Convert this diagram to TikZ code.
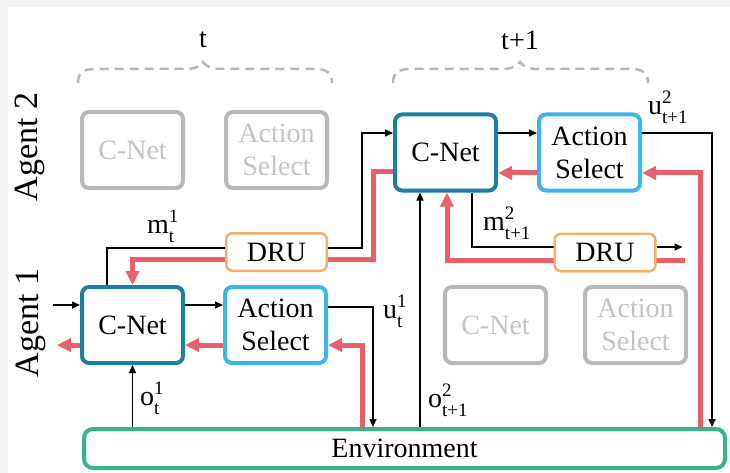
\documentclass[tikz,border=0pt]{standalone}
\usepackage{fontspec}
\setmainfont{Liberation Serif}
\usetikzlibrary{arrows.meta,calc}
\pgfdeclarelayer{bottom}
\pgfdeclarelayer{background}
\pgfsetlayers{bottom,background,main}
\definecolor{cnet}{HTML}{1A7FA0}
\definecolor{asel}{HTML}{3DB5E6}
\definecolor{druc}{HTML}{F4B06A}
\definecolor{envc}{HTML}{3BB38A}
\definecolor{grad}{HTML}{E8606A}
\definecolor{gbox}{HTML}{B8B8B8}
\definecolor{gtxt}{HTML}{C4C4C4}
\definecolor{bgc}{HTML}{F4F4F4}
\newcommand\ssc[3]{#1\rlap{\raisebox{11pt}{\fontsize{19}{19}\selectfont #3}}\raisebox{-9pt}{\fontsize{19}{19}\selectfont #2}}
\begin{document}
\begin{tikzpicture}[x=1pt,y=-1pt,font=\rmfamily\fontsize{28}{33}\selectfont,
  box/.style={draw,rounded corners=7pt,line width=4pt,fill=white,minimum width=101pt,minimum height=76pt,inner sep=0pt,align=center},
  cnetbox/.style={box,draw=cnet},
  asbox/.style={box,draw=asel},
  graybox/.style={box,draw=gbox,text=gtxt},
  drubox/.style={draw=druc,rounded corners=6pt,line width=2.5pt,fill=white,minimum width=100.5pt,minimum height=37.5pt,inner sep=0pt},
  envbox/.style={draw=envc,rounded corners=9pt,line width=4pt,fill=white,minimum width=641pt,minimum height=39pt,inner sep=0pt},
  wire/.style={black,line width=1.4pt},
  warr/.style={wire,-{Triangle[length=8pt,width=7pt]}},
  gwire/.style={grad,line width=5pt},
  garr/.style={gwire,-{Triangle[length=14pt,width=13pt]}},
  gbrace/.style={draw=gbox,line width=2.5pt,dash pattern=on 9pt off 6pt},
  lbl/.style={anchor=base west,inner sep=0pt},
  agent/.style={rotate=90,inner sep=0pt,font=\rmfamily\fontsize{34}{34}\selectfont}]
\begin{pgfonlayer}{bottom}
  \fill[bgc] (0,0) rectangle (730,473);
  \fill[white] (8,7) rectangle (730,473);
\end{pgfonlayer}
\useasboundingbox (0,0) rectangle (730,473);

% boxes
\node[graybox] (g1c) at (132.5,150) {C-Net};
\node[graybox] (g1a) at (276.5,150) {Action\\Select};
\node[cnetbox] (cn2) at (445.5,152.5) {C-Net};
\node[asbox] (as2) at (589.5,152.5) {Action\\Select};
\node[cnetbox] (cn1) at (132.5,325) {C-Net};
\node[asbox] (as1) at (275.5,325) {Action\\Select};
\node[graybox] (g2c) at (495.5,325) {C-Net};
\node[graybox] (g2a) at (635.5,325) {Action\\Select};
\node[drubox] (dru1) at (276.5,252) {DRU};
\node[drubox] (dru2) at (605,252.5) {DRU};
\node[envbox] (env) at (404.5,448.5) {Environment};

% labels
\node (tl) at (203,40) {t};
\node (tl2) at (520,40) {t+1};
\node[agent] (ag2) at (30,147) {Agent 2};
\node[agent] (ag1) at (31,323) {Agent 1};
\node[lbl] (lm1) at (147,233) {\ssc{m}{t}{1}};
\node[lbl] (lm2) at (483,230) {\ssc{m}{t+1}{2}};
\node[lbl] (lu2) at (648,115) {\ssc{u}{t+1}{2}};
\node[lbl] (lu1) at (383,318) {\ssc{u}{t}{1}};
\node[lbl] (lo1) at (140,405) {\ssc{o}{t}{1}};
\node[lbl] (lo2) at (428,407) {\ssc{o}{t+1}{2}};

% braces
\draw[gbrace] (78,83) .. controls (78,73) and (83,69) .. (95,69) -- (185,69) .. controls (195,69) and (200,66) .. (203,62) .. controls (206,66) and (211,69) .. (221,69) -- (315,69) .. controls (327,69) and (332,73) .. (332,83);
\draw[gbrace] (393,83) .. controls (393,73) and (398,69) .. (410,69) -- (502,69) .. controls (512,69) and (517,66) .. (520,62) .. controls (523,66) and (528,69) .. (538,69) -- (631,69) .. controls (643,69) and (648,73) .. (648,83);

\coordinate (o2) at ([xshift=-25.5]cn2.south);
\coordinate (m2) at ([xshift=26.5]cn2.south);
\coordinate (g2) at ([xshift=1.5]cn2.south);
\coordinate (rr) at ([yshift=-7]dru1.center);
\coordinate (eu1) at ([xshift=-31.5]env.north);
\coordinate (eg1) at ([xshift=-42.5]env.north);
\coordinate (eu2) at ([xshift=307.5]env.north);
\coordinate (eg2) at ([xshift=295.5]env.north);

\begin{pgfonlayer}{background}
  % black forward
  \draw[warr] ([yshift=20,xshift=-27]cn1.west) -- ([yshift=20]cn1.west);
  \draw[warr] ([yshift=20]cn1.east) -- ([yshift=20]as1.west);
  \draw[warr] ([yshift=18]as1.east) -| (eu1 |- env.north);
  \draw[warr] (cn1.south |- env.north) -- (cn1.south);
  \draw[wire] ([xshift=-25.5]cn1.north) |- ([yshift=4]dru1.west);
  \draw[warr] ([yshift=4]dru1.east) -- ++(34,0) |- ([yshift=19.5]cn2.west);
  \draw[warr] ([yshift=19.5]cn2.east) -- ([yshift=19.5]as2.west);
  \draw[warr] ([yshift=19.5]as2.east) -| (eu2 |- env.north);
  \draw[warr] (o2 |- env.north) -- (o2);
  \draw[wire] (m2) |- ([yshift=5.5]dru2.west);
  \draw[warr] ([yshift=5.5]dru2.east) -- ++(26,0);
  % red gradients
  \draw[garr] ([yshift=-20]as1.west) -- ([yshift=-20]cn1.east);
  \draw[garr] ([yshift=-20]cn1.west) -- ++(-23,0);
  \draw[garr] (eg1 |- env.north) |- ([yshift=-20]as1.east);
  \draw[garr] ([yshift=-20.5]as2.west) -- ([yshift=-20.5]cn2.east);
  \draw[garr] (eg2 |- env.north) |- ([yshift=-20.5]as2.east);
  \draw[garr] ([yshift=-19.5]cn2.west) -- ++(-20,0) |- (rr) -| (cn1.north);
  \draw[garr] ([xshift=28,yshift=-7.5]dru2.east) -| (g2);
\end{pgfonlayer}
\end{tikzpicture}
\end{document}
